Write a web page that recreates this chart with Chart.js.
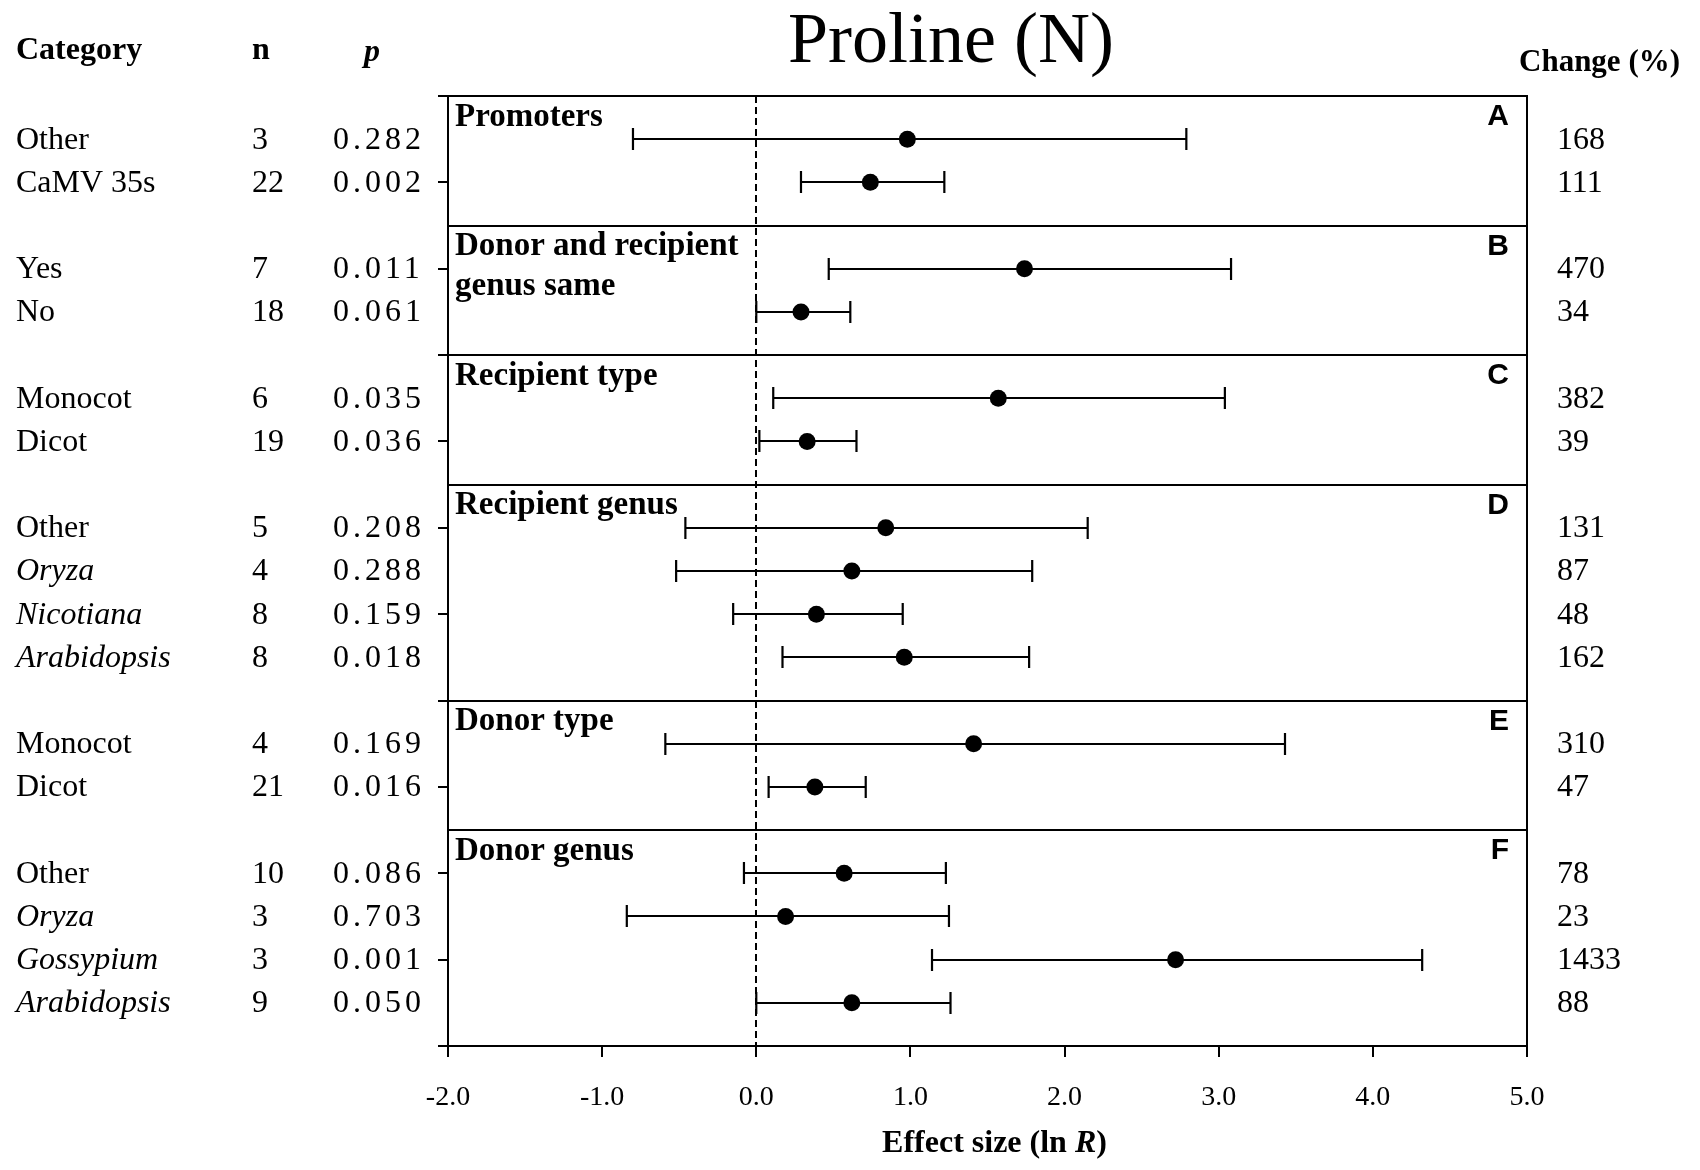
<!DOCTYPE html>
<html><head><meta charset="utf-8">
<script src="https://cdn.jsdelivr.net/npm/chart.js@4.4.1/dist/chart.umd.min.js"></script>
<style>html,body{margin:0;padding:0;background:#fff}#wrap{position:relative;width:1700px;height:1170px}</style>
</head><body><div id="wrap"><canvas id="c"></canvas></div>
<script>
// ---- data ----
const categories = ['Other','CaMV 35s','Yes','No','Monocot','Dicot','Other','Oryza','Nicotiana','Arabidopsis','Monocot','Dicot','Other','Oryza','Gossypium','Arabidopsis'];
const italicCat  = [false,false,false,false,false,false,false,true,true,true,false,false,false,true,true,true];
const nValues    = [3,22,7,18,6,19,5,4,8,8,4,21,10,3,3,9];
const pValues    = ['0.282','0.002','0.011','0.061','0.035','0.036','0.208','0.288','0.159','0.018','0.169','0.016','0.086','0.703','0.001','0.050'];
const changePct  = [168,111,470,34,382,39,131,87,48,162,310,47,78,23,1433,88];
const effectMean = [0.98,0.74,1.74,0.29,1.57,0.33,0.84,0.62,0.39,0.96,1.41,0.38,0.57,0.19,2.72,0.62];
const ciLow      = [-0.80,0.29,0.47,0.00,0.11,0.02,-0.46,-0.52,-0.15,0.17,-0.59,0.08,-0.08,-0.84,1.14,0.00];
const ciHigh     = [2.79,1.22,3.08,0.61,3.04,0.65,2.15,1.79,0.95,1.77,3.43,0.71,1.23,1.25,4.32,1.26];
const rowPos     = [0.5,1,2,2.5,3.5,4,5,5.5,6,6.5,7.5,8,9,9.5,10,10.5];
const sectionTitles  = [['Promoters'],['Donor and recipient','genus same'],['Recipient type'],['Recipient genus'],['Donor type'],['Donor genus']];
const sectionLetters = ['A','B','C','D','E','F'];
const sectionStart   = [0,1.5,3,4.5,7,8.5];
const xTicks = [-2,-1,0,1,2,3,4,5];
const yTicks = [0,1,2,3,4,5,6,7,8,9,10,11];

const SERIF = '"Liberation Serif","Times New Roman",serif';
const SANS  = '"Liberation Sans",Arial,sans-serif';

const overlay = {
  id: 'overlay',
  beforeDatasetsDraw(chart) {
    const {ctx, chartArea: a, scales: {x, y}} = chart;
    ctx.save();
    ctx.strokeStyle = '#000';
    ctx.lineWidth = 2;
    sectionStart.forEach((s, i) => {
      if (i === 0) return;
      const py = Math.round(y.getPixelForValue(s));
      ctx.beginPath(); ctx.moveTo(a.left, py); ctx.lineTo(a.right, py); ctx.stroke();
    });
    ctx.strokeRect(a.left, a.top, a.right - a.left, a.bottom - a.top);
    const zx = Math.round(x.getPixelForValue(0));
    ctx.setLineDash([7, 4]);
    ctx.beginPath(); ctx.moveTo(zx, a.top); ctx.lineTo(zx, a.bottom); ctx.stroke();
    ctx.setLineDash([]);
    ctx.lineWidth = 2.2;
    rowPos.forEach((r, i) => {
      const py = Math.round(y.getPixelForValue(r));
      const x1 = x.getPixelForValue(ciLow[i]), x2 = x.getPixelForValue(ciHigh[i]);
      ctx.beginPath();
      ctx.moveTo(x1, py); ctx.lineTo(x2, py);
      ctx.moveTo(x1, py - 11); ctx.lineTo(x1, py + 11);
      ctx.moveTo(x2, py - 11); ctx.lineTo(x2, py + 11);
      ctx.stroke();
    });
    ctx.restore();
  },
  afterDraw(chart) {
    const {ctx, chartArea: a, scales: {x, y}} = chart;
    ctx.save();
    ctx.fillStyle = '#000';
    ctx.textBaseline = 'middle';
    // title
    ctx.textAlign = 'center';
    ctx.font = '72px ' + SERIF;
    ctx.fillText('Proline (N)', 951, 43);
    // headers
    ctx.textAlign = 'left';
    ctx.font = 'bold 32px ' + SERIF;
    ctx.fillText('Category', 16, 51);
    ctx.fillText('n', 252, 51);
    ctx.font = 'bold 31px ' + SERIF;
    ctx.fillText('Change (%)', 1519, 63);
    ctx.font = 'italic bold 32px ' + SERIF;
    ctx.fillText('p', 364, 53);
    // rows
    rowPos.forEach((r, i) => {
      const py = y.getPixelForValue(r) + 1;
      ctx.letterSpacing = '0px';
      ctx.font = (italicCat[i] ? 'italic ' : '') + '32px ' + SERIF;
      ctx.fillText(categories[i], 16, py);
      ctx.font = '32px ' + SERIF;
      ctx.fillText(String(nValues[i]), 252, py);
      ctx.fillText(String(changePct[i]), 1557, py);
      ctx.letterSpacing = '4px';
      ctx.fillText(pValues[i], 333, py);
      ctx.letterSpacing = '0px';
    });
    // section titles and letters
    sectionStart.forEach((s, i) => {
      const py = y.getPixelForValue(s) + 21;
      ctx.textAlign = 'left';
      ctx.font = 'bold 33px ' + SERIF;
      sectionTitles[i].forEach((t, k) => ctx.fillText(t, 455, py + k * 40));
      ctx.textAlign = 'right';
      ctx.font = 'bold 30px ' + SANS;
      ctx.fillText(sectionLetters[i], 1509, py);
    });
    // axis title with italic R
    const parts = [['Effect size (ln ', 'bold 32px '], ['R', 'italic bold 32px '], [')', 'bold 32px ']];
    let total = 0;
    parts.forEach(p => { ctx.font = p[1] + SERIF; total += ctx.measureText(p[0]).width; });
    let cx = (a.left + a.right) / 2 + 7 - total / 2;
    ctx.textAlign = 'left';
    parts.forEach(p => { ctx.font = p[1] + SERIF; ctx.fillText(p[0], cx, 1144); cx += ctx.measureText(p[0]).width; });
    ctx.restore();
  }
};

new Chart(document.getElementById('c'), {
  type: 'scatter',
  data: {
    datasets: [{
      data: rowPos.map((r, i) => ({x: effectMean[i], y: r})),
      pointRadius: 8.5,
      pointHoverRadius: 8.5,
      backgroundColor: '#000',
      borderWidth: 0
    }]
  },
  options: {
    responsive: true,
    maintainAspectRatio: false,
    animation: false,
    events: [],
    layout: {padding: {left: 0, right: 173, top: 96, bottom: 0}},
    plugins: {legend: {display: false}, tooltip: {enabled: false}, title: {display: false}},
    scales: {
      x: {
        type: 'linear', min: -2, max: 5,
        afterBuildTicks: s => { s.ticks = xTicks.map(v => ({value: v})); },
        afterFit: s => { s.height = 124; },
        ticks: {color: '#000', padding: 24, font: {family: SERIF, size: 28}, callback: v => Number(v).toFixed(1)},
        grid: {drawOnChartArea: false, drawTicks: true, tickLength: 11, color: '#000', lineWidth: 2},
        border: {display: true, color: '#000', width: 2}
      },
      y: {
        type: 'linear', min: 0, max: 11, reverse: true,
        afterBuildTicks: s => { s.ticks = yTicks.map(v => ({value: v})); },
        afterFit: s => { s.width = 448; },
        ticks: {display: false},
        grid: {drawOnChartArea: false, drawTicks: true, tickLength: 10, color: '#000', lineWidth: 2},
        border: {display: true, color: '#000', width: 2}
      }
    }
  },
  plugins: [overlay]
});
</script>
</body></html>
